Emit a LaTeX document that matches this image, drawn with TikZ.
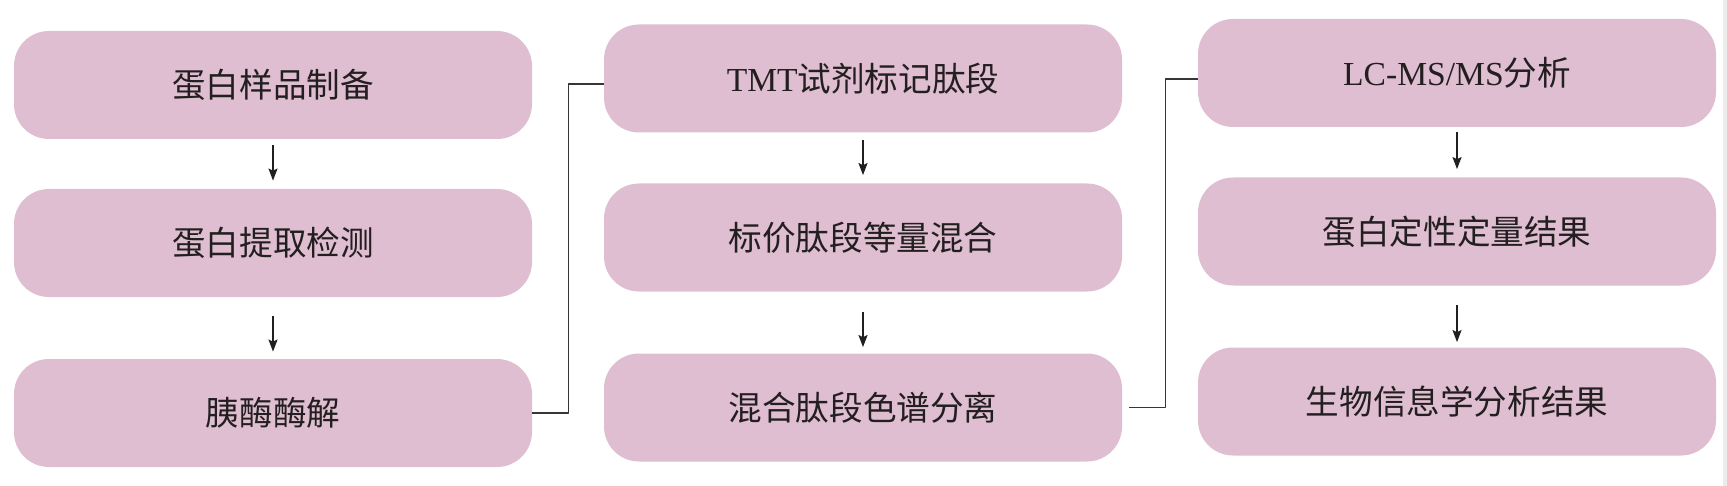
\documentclass[tikz,border=0pt]{standalone}
\usepackage{fontspec}
\setmainfont{Liberation Serif}
\newfontfamily\cjk{Noto Sans CJK SC}
\usetikzlibrary{arrows.meta}
\definecolor{boxpink}{RGB}{222,190,208}
\definecolor{inkdark}{RGB}{35,31,32}
\begin{document}
\begin{tikzpicture}[x=0.5pt, y=-0.5pt, font=\fontsize{16.8}{20}\selectfont, line join=round,
 pbox/.style={fill=boxpink, rounded corners=17.5pt, minimum width=259pt, minimum height=54pt, inner sep=0pt, text=inkdark},
 arr/.style={-{Stealth[length=6pt,width=4.5pt,inset=1pt]}, line width=0.75pt, draw=inkdark},
 link/.style={line width=0.75pt, draw=inkdark!90}]
 \useasboundingbox (0,0) rectangle (1727,486);
 \fill[gray!15] (1723,0) rectangle (1727,486);
 % first column
 \node[pbox] (a1) at (273,85) {\cjk 蛋白样品制备};
 \node[pbox] (a2) at (273,243) {\cjk 蛋白提取检测};
 \node[pbox] (a3) at (273,413) {\cjk 胰酶酶解};
 % second column
 \node[pbox] (b1) at (863,78.5) {TMT{\cjk 试剂标记肽段}};
 \node[pbox] (b2) at (863,237.5) {\cjk 标价肽段等量混合};
 \node[pbox] (b3) at (863,407.5) {\cjk 混合肽段色谱分离};
 % third column
 \node[pbox] (c1) at (1457,73) {LC-MS/MS{\cjk 分析}};
 \node[pbox] (c2) at (1457,231.5) {\cjk 蛋白定性定量结果};
 \node[pbox] (c3) at (1457,401.5) {\cjk 生物信息学分析结果};
 % arrows
 \draw[arr, shorten <=3pt, shorten >=4pt] (a1) -- (a2);
 \draw[arr, shorten <=9.5pt, shorten >=3.5pt] (a2) -- (a3);
 \draw[arr, shorten <=3.5pt, shorten >=4pt] (b1) -- (b2);
 \draw[arr, shorten <=10pt, shorten >=3pt] (b2) -- (b3);
 \draw[arr, shorten <=2.5pt, shorten >=4pt] (c1) -- (c2);
 \draw[arr, shorten <=9.5pt, shorten >=2.5pt] (c2) -- (c3);
 % links between columns
 \draw[link] (a3.east) -- ++(36,0) |- ([yshift=-2.75pt]b1.west);
 \draw[link] ([xshift=3.5pt]b3.east) -- ++(36,0) |- ([yshift=-3pt]c1.west);
\end{tikzpicture}
\end{document}
